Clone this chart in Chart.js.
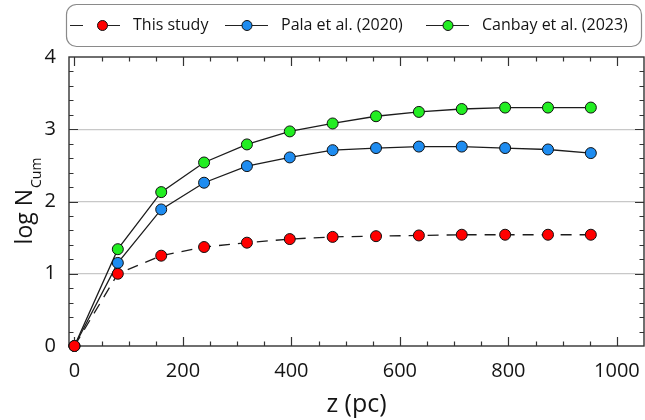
<!DOCTYPE html>
<html>
<head>
<meta charset="utf-8">
<script src="https://cdn.jsdelivr.net/npm/chart.js@4"></script>
<style>
  html, body { margin: 0; padding: 0; background: #fff; }
  #wrap { width: 645px; height: 420px; position: relative; }
</style>
</head>
<body>
<div id="wrap"><canvas id="c" width="645" height="420"></canvas></div>
<script>
// Cumulative counts (log) against distance from the Galactic plane
const zValues   = [0, 80, 160, 239, 318, 397, 476, 556, 635, 714, 794, 873, 952];
const thisStudy = [0, 1.00, 1.25, 1.37, 1.43, 1.48, 1.51, 1.52, 1.53, 1.54, 1.54, 1.54, 1.54];
const pala2020  = [0, 1.15, 1.89, 2.26, 2.49, 2.61, 2.71, 2.74, 2.76, 2.76, 2.74, 2.72, 2.67];
const canbay2023 = [0, 1.34, 2.13, 2.54, 2.79, 2.97, 3.08, 3.18, 3.24, 3.28, 3.30, 3.30, 3.30];

const seriesNames = ['This study', 'Pala et al. (2020)', 'Canbay et al. (2023)'];
const xTicks = [0, 200, 400, 600, 800, 1000];
const yTicks = [0, 1, 2, 3, 4];

const FONT = '"Open Sans", "Noto Sans", sans-serif';
const INK = '#141414';

const toPoints = ys => zValues.map((z, i) => ({ x: z, y: ys[i] }));

function series(label, ys, fill, dash) {
  return {
    label,
    data: toPoints(ys),
    showLine: true,
    borderColor: '#1c1c1c',
    borderWidth: 1.3,
    borderDash: dash,
    pointRadius: 5.5,
    pointHoverRadius: 5.5,
    pointBackgroundColor: fill,
    pointBorderColor: '#111',
    pointBorderWidth: 1,
    clip: false
  };
}

// Box frame with inward major/minor ticks on all four sides
const framePlugin = {
  id: 'frame',
  beforeDatasetsDraw(chart) {
    const { ctx, chartArea: a, scales: { x, y } } = chart;
    ctx.save();
    ctx.strokeStyle = '#333';
    ctx.lineWidth = 1.2;
    ctx.beginPath();
    for (let v = 0; v <= 1000; v += 50) {
      const px = Math.round(x.getPixelForValue(v)) + 0.5;
      const len = v % 200 === 0 ? 9 : 4.5;
      ctx.moveTo(px, a.bottom); ctx.lineTo(px, a.bottom - len);
      ctx.moveTo(px, a.top); ctx.lineTo(px, a.top + len);
    }
    for (let i = 1; i < 20; i++) {
      const v = i * 0.2;
      const py = Math.round(y.getPixelForValue(v)) + 0.5;
      const len = i % 5 === 0 ? 9 : 4.5;
      ctx.moveTo(a.left, py); ctx.lineTo(a.left + len, py);
      ctx.moveTo(a.right, py); ctx.lineTo(a.right - len, py);
    }
    ctx.stroke();
    ctx.lineWidth = 1.4;
    ctx.strokeRect(a.left, a.top, a.right - a.left, a.bottom - a.top);
    ctx.restore();
  }
};

// Y axis title with subscript, and the boxed legend above the plot
const annotatePlugin = {
  id: 'annotate',
  afterDraw(chart) {
    const { ctx, chartArea: a } = chart;
    ctx.save();

    // log N_Cum
    const mainFont = '23px ' + FONT;
    const subFont = '14px ' + FONT;
    ctx.fillStyle = INK;
    ctx.font = mainFont;
    const wMain = ctx.measureText('log N').width;
    ctx.font = subFont;
    const wSub = ctx.measureText('Cum').width;
    ctx.translate(32, (a.top + a.bottom) / 2);
    ctx.rotate(-Math.PI / 2);
    ctx.textBaseline = 'alphabetic';
    ctx.textAlign = 'left';
    const start = -(wMain + wSub) / 2;
    ctx.font = mainFont;
    ctx.fillText('log N', start, 0);
    ctx.font = subFont;
    ctx.fillText('Cum', start + wMain + 1, 9);
    ctx.setTransform(1, 0, 0, 1, 0, 0);

    // legend box
    const bx = 66.5, by = 4.5, bw = 575, bh = 42, r = 10;
    ctx.beginPath();
    ctx.roundRect(bx, by, bw, bh, r);
    ctx.fillStyle = '#fff';
    ctx.fill();
    ctx.strokeStyle = '#8a8a8a';
    ctx.lineWidth = 1.2;
    ctx.stroke();

    const cy = 25.5;
    const items = [
      { seg: [[70, 83], [102, 120]], mx: 102.5, tx: 133 },
      { seg: [[225, 268]], mx: 247, tx: 281 },
      { seg: [[426, 469]], mx: 448, tx: 482 }
    ];
    ctx.font = '16px ' + FONT;
    ctx.textBaseline = 'middle';
    ctx.textAlign = 'left';
    items.forEach((it, i) => {
      const ds = chart.data.datasets[i];
      ctx.strokeStyle = '#222';
      ctx.lineWidth = 1.2;
      ctx.beginPath();
      it.seg.forEach(([s, e]) => { ctx.moveTo(s, cy); ctx.lineTo(e, cy); });
      ctx.stroke();
      ctx.beginPath();
      ctx.arc(it.mx, cy, 5, 0, Math.PI * 2);
      ctx.fillStyle = ds.pointBackgroundColor;
      ctx.fill();
      ctx.strokeStyle = '#111';
      ctx.lineWidth = 1;
      ctx.stroke();
      ctx.fillStyle = INK;
      ctx.fillText(seriesNames[i], it.tx, cy);
    });
    ctx.restore();
  }
};

new Chart(document.getElementById('c'), {
  type: 'scatter',
  data: {
    datasets: [
      series(seriesNames[0], thisStudy, '#ff0000', [11, 8]),
      series(seriesNames[1], pala2020, '#1e8cf0', []),
      series(seriesNames[2], canbay2023, '#22ee22', [])
    ]
  },
  options: {
    responsive: false,
    animation: false,
    devicePixelRatio: 1,
    layout: { autoPadding: false, padding: { top: 57, right: 1, left: 0, bottom: 0 } },
    plugins: { legend: { display: false }, tooltip: { enabled: false } },
    scales: {
      x: {
        type: 'linear',
        min: -10,
        max: 1050,
        afterBuildTicks: s => { s.ticks = xTicks.map(v => ({ value: v })); },
        afterFit: s => { s.height = 74; s.paddingLeft = 0; s.paddingRight = 0; },
        grid: { display: false, drawTicks: false },
        border: { display: false },
        ticks: { color: INK, font: { family: FONT, size: 20 }, padding: 13, maxRotation: 0, callback: v => String(v) },
        title: { display: true, text: 'z (pc)', color: INK, font: { family: FONT, size: 25 }, padding: { top: 0, bottom: 0 } }
      },
      y: {
        type: 'linear',
        min: 0,
        max: 4,
        afterBuildTicks: s => { s.ticks = yTicks.map(v => ({ value: v })); },
        afterFit: s => { s.width = 69; s.paddingTop = 0; s.paddingBottom = 0; },
        grid: {
          drawTicks: false,
          color: c => (c.tick && c.tick.value > 0 && c.tick.value < 4) ? '#c8c8c8' : 'rgba(0,0,0,0)',
          lineWidth: 1.2
        },
        border: { display: false },
        ticks: { color: INK, font: { family: FONT, size: 20 }, padding: 13, callback: v => String(v) }
      }
    }
  },
  plugins: [framePlugin, annotatePlugin]
});
</script>
</body>
</html>
